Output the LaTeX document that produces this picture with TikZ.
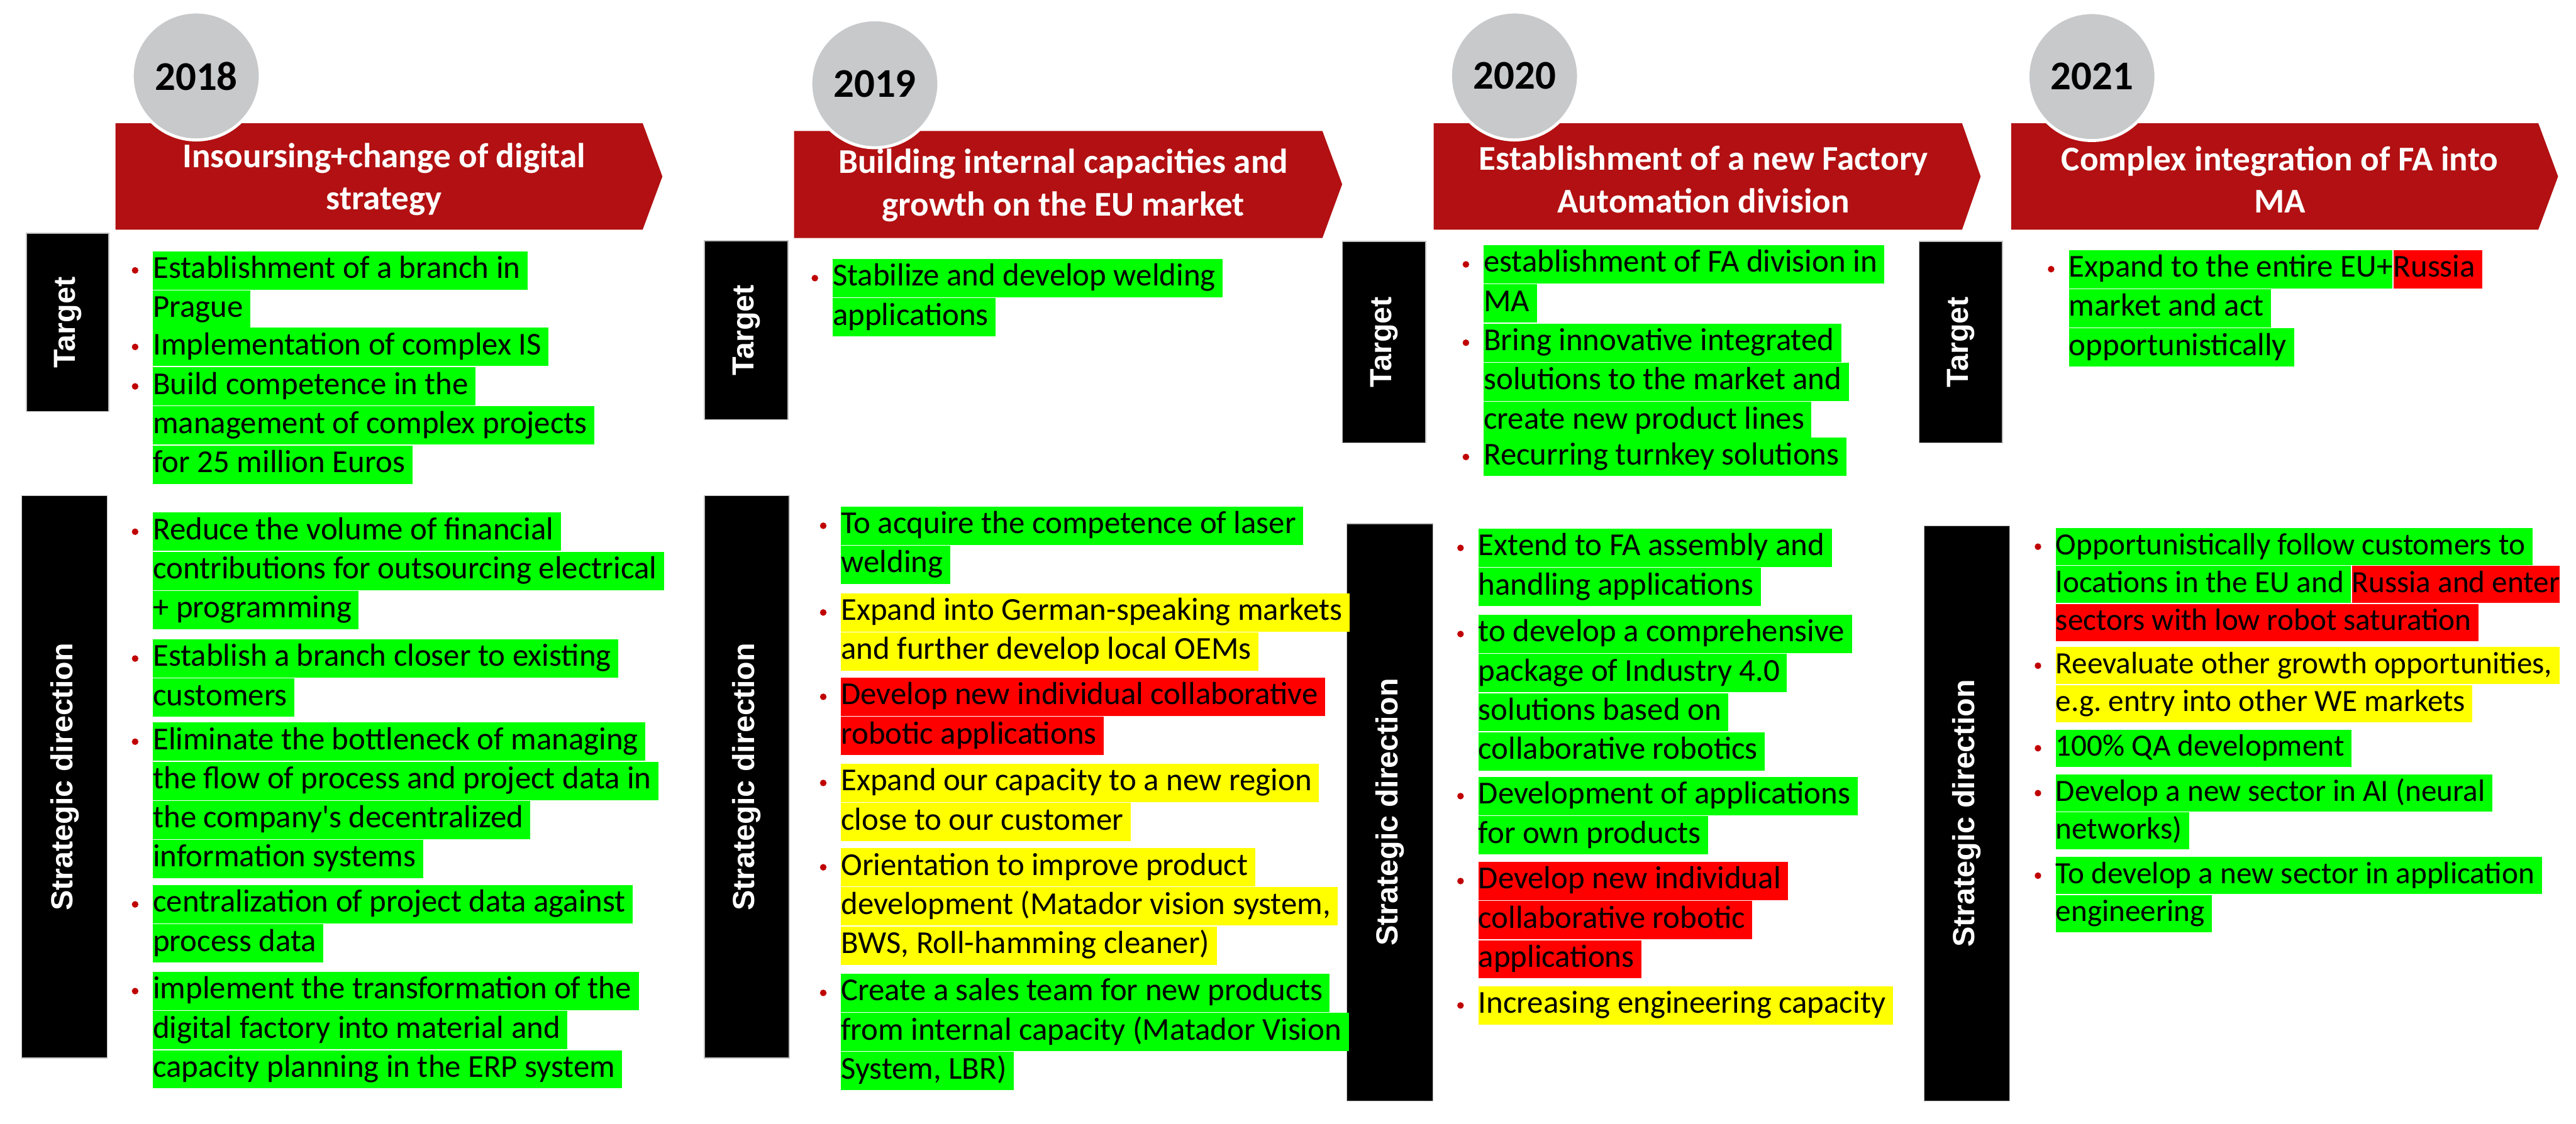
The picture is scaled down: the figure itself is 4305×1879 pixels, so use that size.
\documentclass[tikz,border=0pt]{standalone}
\usepackage{xcolor}
\usepackage{fontspec}
\setmainfont{Carlito}
\newfontfamily\labelfamily{Liberation Sans}
\usepackage{tikz}
\usetikzlibrary{positioning}
\definecolor{phasered}{RGB}{178,16,18}
\definecolor{yeargray}{RGB}{200,201,203}
\definecolor{hlgreen}{RGB}{0,255,0}
\definecolor{hlyellow}{RGB}{255,255,0}
\definecolor{hlred}{RGB}{255,0,0}
\definecolor{bulletred}{RGB}{192,0,0}

\begin{document}
\frenchspacing
\begin{tikzpicture}[
        x=0.1mm, y=-0.1mm,
        phase/.style={fill=phasered, draw=none},
        year/.style={circle, fill=yeargray, draw=white, line width=0.5mm, minimum size=21.4mm, inner sep=0pt, font=\bfseries\fontsize{19.4pt}{23pt}\selectfont},
        title/.style={text=white, align=center, font=\bfseries\fontsize{16.5pt}{20.2pt}\selectfont},
        tag/.style={fill=black, draw=gray!50, rotate=90, text=white, inner sep=0pt, font=\labelfamily\bfseries\fontsize{14.5pt}{17pt}\selectfont},
        ln/.style={anchor=west, inner sep=0pt, text height=4.5mm, text depth=1.9mm, font=\fontsize{15.2pt}{18.2pt}\selectfont},
        tail/.style={execute at end node={\hspace{1.2mm}}},
        hg/.style={ln, tail, fill=hlgreen},
        hy/.style={ln, tail, fill=hlyellow},
        hr/.style={ln, tail, fill=hlred},
        dot/.style={circle, fill=bulletred, inner sep=0pt, minimum size=1.1mm}
    ]
        \fill[white] (0,0) rectangle (4305,1879);
        \useasboundingbox (0,0) rectangle (4305,1879);

        % Phase arrows
        \fill[phase] (193,206) -- (1074,206) -- (1107,295) -- (1074,384) -- (193,384) -- cycle;
        \fill[phase] (1327,219) -- (2210,219) -- (2243,308) -- (2210,398) -- (1327,398) -- cycle;
        \fill[phase] (2396,206) -- (3279,206) -- (3310,295) -- (3279,384) -- (2396,384) -- cycle;
        \fill[phase] (3361,206) -- (4242,206) -- (4275,295) -- (4242,384) -- (3361,384) -- cycle;

        \node[title] (p1) at (642,300) {Insoursing+change of digital\\strategy};
        \node[title] (p2) at (1777,310) {Building internal capacities and\\growth on the EU market};
        \node[title] (p3) at (2847,300) {Establishment of a new Factory\\Automation division};
        \node[title] (p4) at (3810,300) {Complex integration of FA into\\MA};

        % Years
        \node[year] (y18) at (328,127) {2018};
        \node[year] (y19) at (1462,140) {2019};
        \node[year] (y20) at (2531,127) {2020};
        \node[year] (y21) at (3496,128) {2021};

        % Side labels
        \node[tag, minimum width=29.8mm, minimum height=13.8mm] (tg1) at (113,539) {Target};
        \node[tag, minimum width=29.9mm, minimum height=14.0mm] (tg2) at (1247,552) {Target};
        \node[tag, minimum width=33.7mm, minimum height=13.9mm] (tg3) at (2313,572) {Target};
        \node[tag, minimum width=33.7mm, minimum height=13.9mm] (tg4) at (3277,572) {Target};
        \node[tag, minimum width=94.0mm, minimum height=14.3mm] (sd1) at (108,1299) {Strategic direction};
        \node[tag, minimum width=94.0mm, minimum height=14.2mm] (sd2) at (1248,1299) {Strategic direction};
        \node[tag, minimum width=96.5mm, minimum height=14.4mm] (sd3) at (2323,1358) {Strategic direction};
        \node[tag, minimum width=96.2mm, minimum height=14.3mm] (sd4) at (3287,1360) {Strategic direction};

        % 2018 target
        \node[hg] (t1a) at (255,452) {Establishment of a branch in};
        \node[hg, anchor=north west] (t1a2) at (t1a.south west) {Prague};
        \node[hg] (t1b) at (255,580) {Implementation of complex IS};
        \node[hg] (t1c) at (255,646) {Build competence in the};
        \node[hg, anchor=north west] (t1c2) at (t1c.south west) {management of complex projects};
        \node[hg, anchor=north west] (t1c3) at (t1c2.south west) {for 25 million Euros};
        \node[dot, left=2.3mm of t1a] (d1a) {};
        \node[dot, left=2.3mm of t1b] (d1b) {};
        \node[dot, left=2.3mm of t1c] (d1c) {};

        % 2018 strategic direction
        \node[hg] (s1a) at (255,889) {Reduce the volume of financial};
        \node[hg, anchor=north west] (s1a2) at (s1a.south west) {contributions for outsourcing electrical};
        \node[hg, anchor=north west] (s1a3) at (s1a2.south west) {+ programming};
        \node[hg] (s1b) at (255,1101) {Establish a branch closer to existing};
        \node[hg, anchor=north west] (s1b2) at (s1b.south west) {customers};
        \node[hg] (s1c) at (255,1240) {Eliminate the bottleneck of managing};
        \node[hg, anchor=north west] (s1c2) at (s1c.south west) {the flow of process and project data in};
        \node[hg, anchor=north west] (s1c3) at (s1c2.south west) {the company\textquotesingle s decentralized};
        \node[hg, anchor=north west] (s1c4) at (s1c3.south west) {information systems};
        \node[hg] (s1d) at (255,1512) {centralization of project data against};
        \node[hg, anchor=north west] (s1d2) at (s1d.south west) {process data};
        \node[hg] (s1e) at (255,1657) {implement the transformation of the};
        \node[hg, anchor=north west] (s1e2) at (s1e.south west) {digital factory into material and};
        \node[hg, anchor=north west] (s1e3) at (s1e2.south west) {capacity planning in the ERP system};
        \node[dot, left=2.3mm of s1a] (e1a) {};
        \node[dot, left=2.3mm of s1b] (e1b) {};
        \node[dot, left=2.3mm of s1c] (e1c) {};
        \node[dot, left=2.3mm of s1d] (e1d) {};
        \node[dot, left=2.3mm of s1e] (e1e) {};

        % 2019 target
        \node[hg] (t2a) at (1391,465) {Stabilize and develop welding};
        \node[hg, anchor=north west] (t2a2) at (t2a.south west) {applications};
        \node[dot, left=2.3mm of t2a] (d2a) {};

        % 2019 strategic direction
        \node[hg] (s2a) at (1405,879) {To acquire the competence of laser};
        \node[hg, anchor=north west] (s2a2) at (s2a.south west) {welding};
        \node[hy] (s2b) at (1405,1024) {Expand into German-speaking markets};
        \node[hy, anchor=north west] (s2b2) at (s2b.south west) {and further develop local OEMs};
        \node[hr] (s2c) at (1405,1165) {Develop new individual collaborative};
        \node[hr, anchor=north west] (s2c2) at (s2c.south west) {robotic applications};
        \node[hy] (s2d) at (1405,1309) {Expand our capacity to a new region};
        \node[hy, anchor=north west] (s2d2) at (s2d.south west) {close to our customer};
        \node[hy] (s2e) at (1405,1450) {Orientation to improve product};
        \node[hy, anchor=north west] (s2e2) at (s2e.south west) {development (Matador vision system,};
        \node[hy, anchor=north west] (s2e3) at (s2e2.south west) {BWS, Roll-hamming cleaner)};
        \node[hg] (s2f) at (1405,1660) {Create a sales team for new products};
        \node[hg, anchor=north west] (s2f2) at (s2f.south west) {from internal capacity (Matador Vision};
        \node[hg, anchor=north west] (s2f3) at (s2f2.south west) {System, LBR)};
        \node[dot, left=2.3mm of s2a] (e2a) {};
        \node[dot, left=2.3mm of s2b] (e2b) {};
        \node[dot, left=2.3mm of s2c] (e2c) {};
        \node[dot, left=2.3mm of s2d] (e2d) {};
        \node[dot, left=2.3mm of s2e] (e2e) {};
        \node[dot, left=2.3mm of s2f] (e2f) {};

        % 2020 target
        \node[hg] (t3a) at (2479,442) {establishment of FA division in};
        \node[hg, anchor=north west] (t3a2) at (t3a.south west) {MA};
        \node[hg] (t3b) at (2479,573) {Bring innovative integrated};
        \node[hg, anchor=north west] (t3b2) at (t3b.south west) {solutions to the market and};
        \node[hg, anchor=north west] (t3b3) at (t3b2.south west) {create new product lines};
        \node[hg] (t3c) at (2479,764) {Recurring turnkey solutions};
        \node[dot, left=2.3mm of t3a] (d3a) {};
        \node[dot, left=2.3mm of t3b] (d3b) {};
        \node[dot, left=2.3mm of t3c] (d3c) {};

        % 2020 strategic direction
        \node[hg] (s3a) at (2470,916) {Extend to FA assembly and};
        \node[hg, anchor=north west] (s3a2) at (s3a.south west) {handling applications};
        \node[hg] (s3b) at (2470,1060) {to develop a comprehensive};
        \node[hg, anchor=north west] (s3b2) at (s3b.south west) {package of Industry 4.0};
        \node[hg, anchor=north west] (s3b3) at (s3b2.south west) {solutions based on};
        \node[hg, anchor=north west] (s3b4) at (s3b3.south west) {collaborative robotics};
        \node[hg] (s3c) at (2470,1331) {Development of applications};
        \node[hg, anchor=north west] (s3c2) at (s3c.south west) {for own products};
        \node[hr] (s3d) at (2470,1473) {Develop new individual};
        \node[hr, anchor=north west] (s3d2) at (s3d.south west) {collaborative robotic};
        \node[hr, anchor=north west] (s3d3) at (s3d2.south west) {applications};
        \node[hy] (s3e) at (2470,1681) {Increasing engineering capacity};
        \node[dot, left=2.3mm of s3a] (e3a) {};
        \node[dot, left=2.3mm of s3b] (e3b) {};
        \node[dot, left=2.3mm of s3c] (e3c) {};
        \node[dot, left=2.3mm of s3d] (e3d) {};
        \node[dot, left=2.3mm of s3e] (e3e) {};

        % 2021 target
        \node[ln, fill=hlgreen] (t4a) at (3457,450) {Expand to the entire EU+};
        \node[hr] (t4ar) at (t4a.east) {Russia};
        \node[hg, anchor=north west] (t4a2) at (t4a.south west) {market and act};
        \node[hg, anchor=north west] (t4a3) at (t4a2.south west) {opportunistically};
        \node[dot, left=2.3mm of t4a] (d4a) {};

        % 2021 strategic direction (slightly smaller type)
        \begin{scope}[ln/.append style={text height=4.4mm, text depth=1.8mm, font=\fontsize{14.7pt}{17.6pt}\selectfont}]
        \node[hg] (s4a) at (3435,914) {Opportunistically follow customers to};
        \node[hg, anchor=north west] (s4a2) at (s4a.south west) {locations in the EU and};
        \node[ln, fill=hlred] (s4a2r) at (s4a2.east) {Russia and enter};
        \node[hr, anchor=north west] (s4a3) at (s4a2.south west) {sectors with low robot saturation};
        \node[hy] (s4b) at (3435,1113) {Reevaluate other growth opportunities,};
        \node[hy, anchor=north west] (s4b2) at (s4b.south west) {e.g. entry into other WE markets};
        \node[hg] (s4c) at (3435,1251) {100\% QA development};
        \node[hg] (s4d) at (3435,1326) {Develop a new sector in AI (neural};
        \node[hg, anchor=north west] (s4d2) at (s4d.south west) {networks)};
        \node[hg] (s4e) at (3435,1464) {To develop a new sector in application};
        \node[hg, anchor=north west] (s4e2) at (s4e.south west) {engineering};
        \end{scope}
        \node[dot, left=2.3mm of s4a] (e4a) {};
        \node[dot, left=2.3mm of s4b] (e4b) {};
        \node[dot, left=2.3mm of s4c] (e4c) {};
        \node[dot, left=2.3mm of s4d] (e4d) {};
        \node[dot, left=2.3mm of s4e] (e4e) {};
    \end{tikzpicture}
\end{document}
